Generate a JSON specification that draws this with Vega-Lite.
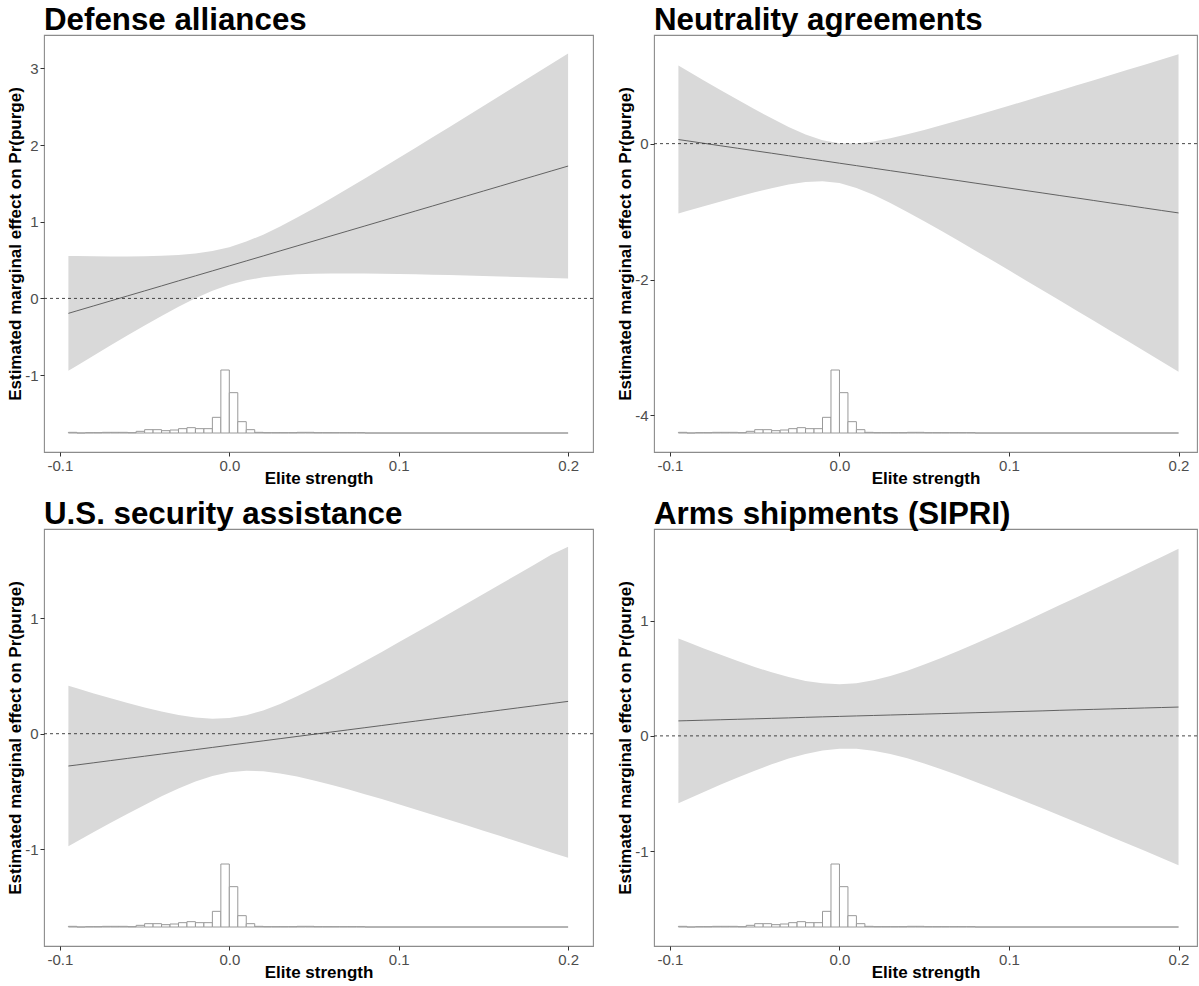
{
  "$schema": "https://vega.github.io/schema/vega-lite/v6.json",
  "padding": {"left": 6, "top": 4, "right": 0, "bottom": 0},
  "columns": 2,
  "spacing": {"row": 11, "column": 22},
  "datasets": {
    "p1": [
      {"x": -0.095, "effect": -0.195, "lower": -0.945, "upper": 0.555},
      {"x": -0.09, "effect": -0.162, "lower": -0.878, "upper": 0.553},
      {"x": -0.08, "effect": -0.097, "lower": -0.745, "upper": 0.550},
      {"x": -0.07, "effect": -0.032, "lower": -0.612, "upper": 0.548},
      {"x": -0.06, "effect": 0.033, "lower": -0.482, "upper": 0.548},
      {"x": -0.05, "effect": 0.098, "lower": -0.354, "upper": 0.550},
      {"x": -0.04, "effect": 0.163, "lower": -0.229, "upper": 0.556},
      {"x": -0.03, "effect": 0.229, "lower": -0.110, "upper": 0.567},
      {"x": -0.02, "effect": 0.294, "lower": 0.001, "upper": 0.587},
      {"x": -0.01, "effect": 0.359, "lower": 0.099, "upper": 0.619},
      {"x": 0.0, "effect": 0.424, "lower": 0.179, "upper": 0.669},
      {"x": 0.01, "effect": 0.489, "lower": 0.237, "upper": 0.741},
      {"x": 0.02, "effect": 0.554, "lower": 0.276, "upper": 0.832},
      {"x": 0.03, "effect": 0.620, "lower": 0.300, "upper": 0.939},
      {"x": 0.04, "effect": 0.685, "lower": 0.314, "upper": 1.055},
      {"x": 0.05, "effect": 0.750, "lower": 0.322, "upper": 1.178},
      {"x": 0.06, "effect": 0.815, "lower": 0.325, "upper": 1.304},
      {"x": 0.07, "effect": 0.880, "lower": 0.326, "upper": 1.434},
      {"x": 0.08, "effect": 0.945, "lower": 0.325, "upper": 1.566},
      {"x": 0.09, "effect": 1.010, "lower": 0.322, "upper": 1.699},
      {"x": 0.10, "effect": 1.076, "lower": 0.319, "upper": 1.832},
      {"x": 0.11, "effect": 1.141, "lower": 0.314, "upper": 1.967},
      {"x": 0.12, "effect": 1.206, "lower": 0.309, "upper": 2.102},
      {"x": 0.13, "effect": 1.271, "lower": 0.304, "upper": 2.238},
      {"x": 0.14, "effect": 1.336, "lower": 0.298, "upper": 2.374},
      {"x": 0.15, "effect": 1.401, "lower": 0.292, "upper": 2.510},
      {"x": 0.16, "effect": 1.466, "lower": 0.286, "upper": 2.647},
      {"x": 0.17, "effect": 1.532, "lower": 0.280, "upper": 2.783},
      {"x": 0.18, "effect": 1.597, "lower": 0.273, "upper": 2.920},
      {"x": 0.19, "effect": 1.662, "lower": 0.266, "upper": 3.057},
      {"x": 0.20, "effect": 1.727, "lower": 0.260, "upper": 3.195}
    ],
    "p2": [
      {"x": -0.095, "effect": 0.060, "lower": -1.030, "upper": 1.150},
      {"x": -0.09, "effect": 0.042, "lower": -0.993, "upper": 1.077},
      {"x": -0.08, "effect": 0.005, "lower": -0.921, "upper": 0.931},
      {"x": -0.07, "effect": -0.032, "lower": -0.850, "upper": 0.787},
      {"x": -0.06, "effect": -0.068, "lower": -0.781, "upper": 0.645},
      {"x": -0.05, "effect": -0.105, "lower": -0.715, "upper": 0.506},
      {"x": -0.04, "effect": -0.141, "lower": -0.655, "upper": 0.372},
      {"x": -0.03, "effect": -0.178, "lower": -0.602, "upper": 0.246},
      {"x": -0.02, "effect": -0.215, "lower": -0.565, "upper": 0.136},
      {"x": -0.01, "effect": -0.251, "lower": -0.554, "upper": 0.051},
      {"x": 0.0, "effect": -0.288, "lower": -0.581, "upper": 0.006},
      {"x": 0.01, "effect": -0.324, "lower": -0.652, "upper": 0.003},
      {"x": 0.02, "effect": -0.361, "lower": -0.753, "upper": 0.031},
      {"x": 0.03, "effect": -0.398, "lower": -0.874, "upper": 0.079},
      {"x": 0.04, "effect": -0.434, "lower": -1.005, "upper": 0.137},
      {"x": 0.05, "effect": -0.471, "lower": -1.143, "upper": 0.201},
      {"x": 0.06, "effect": -0.508, "lower": -1.284, "upper": 0.269},
      {"x": 0.07, "effect": -0.544, "lower": -1.427, "upper": 0.339},
      {"x": 0.08, "effect": -0.581, "lower": -1.572, "upper": 0.411},
      {"x": 0.09, "effect": -0.617, "lower": -1.718, "upper": 0.484},
      {"x": 0.10, "effect": -0.654, "lower": -1.865, "upper": 0.558},
      {"x": 0.11, "effect": -0.691, "lower": -2.013, "upper": 0.632},
      {"x": 0.12, "effect": -0.727, "lower": -2.161, "upper": 0.707},
      {"x": 0.13, "effect": -0.764, "lower": -2.310, "upper": 0.782},
      {"x": 0.14, "effect": -0.800, "lower": -2.459, "upper": 0.858},
      {"x": 0.15, "effect": -0.837, "lower": -2.608, "upper": 0.934},
      {"x": 0.16, "effect": -0.874, "lower": -2.757, "upper": 1.010},
      {"x": 0.17, "effect": -0.910, "lower": -2.906, "upper": 1.086},
      {"x": 0.18, "effect": -0.947, "lower": -3.056, "upper": 1.162},
      {"x": 0.19, "effect": -0.984, "lower": -3.206, "upper": 1.239},
      {"x": 0.20, "effect": -1.020, "lower": -3.356, "upper": 1.315}
    ],
    "p3": [
      {"x": -0.095, "effect": -0.280, "lower": -0.975, "upper": 0.415},
      {"x": -0.09, "effect": -0.271, "lower": -0.934, "upper": 0.393},
      {"x": -0.08, "effect": -0.252, "lower": -0.852, "upper": 0.349},
      {"x": -0.07, "effect": -0.233, "lower": -0.772, "upper": 0.307},
      {"x": -0.06, "effect": -0.214, "lower": -0.693, "upper": 0.266},
      {"x": -0.05, "effect": -0.195, "lower": -0.617, "upper": 0.227},
      {"x": -0.04, "effect": -0.176, "lower": -0.543, "upper": 0.192},
      {"x": -0.03, "effect": -0.157, "lower": -0.475, "upper": 0.162},
      {"x": -0.02, "effect": -0.138, "lower": -0.415, "upper": 0.140},
      {"x": -0.01, "effect": -0.119, "lower": -0.367, "upper": 0.129},
      {"x": 0.0, "effect": -0.100, "lower": -0.335, "upper": 0.135},
      {"x": 0.01, "effect": -0.081, "lower": -0.321, "upper": 0.160},
      {"x": 0.02, "effect": -0.062, "lower": -0.326, "upper": 0.202},
      {"x": 0.03, "effect": -0.043, "lower": -0.344, "upper": 0.258},
      {"x": 0.04, "effect": -0.024, "lower": -0.371, "upper": 0.324},
      {"x": 0.05, "effect": -0.005, "lower": -0.405, "upper": 0.395},
      {"x": 0.06, "effect": 0.014, "lower": -0.442, "upper": 0.470},
      {"x": 0.07, "effect": 0.033, "lower": -0.482, "upper": 0.548},
      {"x": 0.08, "effect": 0.052, "lower": -0.524, "upper": 0.628},
      {"x": 0.09, "effect": 0.071, "lower": -0.567, "upper": 0.709},
      {"x": 0.10, "effect": 0.090, "lower": -0.611, "upper": 0.792},
      {"x": 0.11, "effect": 0.109, "lower": -0.656, "upper": 0.874},
      {"x": 0.12, "effect": 0.128, "lower": -0.702, "upper": 0.958},
      {"x": 0.13, "effect": 0.147, "lower": -0.748, "upper": 1.042},
      {"x": 0.14, "effect": 0.166, "lower": -0.794, "upper": 1.126},
      {"x": 0.15, "effect": 0.185, "lower": -0.841, "upper": 1.211},
      {"x": 0.16, "effect": 0.204, "lower": -0.887, "upper": 1.295},
      {"x": 0.17, "effect": 0.223, "lower": -0.934, "upper": 1.380},
      {"x": 0.18, "effect": 0.242, "lower": -0.981, "upper": 1.465},
      {"x": 0.19, "effect": 0.261, "lower": -1.029, "upper": 1.551},
      {"x": 0.20, "effect": 0.280, "lower": -1.076, "upper": 1.620}
    ],
    "p4": [
      {"x": -0.095, "effect": 0.130, "lower": -0.585, "upper": 0.845},
      {"x": -0.09, "effect": 0.132, "lower": -0.552, "upper": 0.816},
      {"x": -0.08, "effect": 0.136, "lower": -0.486, "upper": 0.758},
      {"x": -0.07, "effect": 0.140, "lower": -0.422, "upper": 0.703},
      {"x": -0.06, "effect": 0.144, "lower": -0.361, "upper": 0.649},
      {"x": -0.05, "effect": 0.148, "lower": -0.302, "upper": 0.598},
      {"x": -0.04, "effect": 0.152, "lower": -0.247, "upper": 0.551},
      {"x": -0.03, "effect": 0.156, "lower": -0.197, "upper": 0.510},
      {"x": -0.02, "effect": 0.161, "lower": -0.156, "upper": 0.477},
      {"x": -0.01, "effect": 0.165, "lower": -0.126, "upper": 0.456},
      {"x": 0.0, "effect": 0.169, "lower": -0.111, "upper": 0.448},
      {"x": 0.01, "effect": 0.173, "lower": -0.112, "upper": 0.457},
      {"x": 0.02, "effect": 0.177, "lower": -0.128, "upper": 0.482},
      {"x": 0.03, "effect": 0.181, "lower": -0.157, "upper": 0.519},
      {"x": 0.04, "effect": 0.185, "lower": -0.195, "upper": 0.565},
      {"x": 0.05, "effect": 0.189, "lower": -0.240, "upper": 0.618},
      {"x": 0.06, "effect": 0.193, "lower": -0.289, "upper": 0.675},
      {"x": 0.07, "effect": 0.197, "lower": -0.342, "upper": 0.736},
      {"x": 0.08, "effect": 0.201, "lower": -0.397, "upper": 0.799},
      {"x": 0.09, "effect": 0.205, "lower": -0.454, "upper": 0.864},
      {"x": 0.10, "effect": 0.209, "lower": -0.512, "upper": 0.930},
      {"x": 0.11, "effect": 0.213, "lower": -0.571, "upper": 0.997},
      {"x": 0.12, "effect": 0.217, "lower": -0.630, "upper": 1.065},
      {"x": 0.13, "effect": 0.222, "lower": -0.691, "upper": 1.134},
      {"x": 0.14, "effect": 0.226, "lower": -0.751, "upper": 1.202},
      {"x": 0.15, "effect": 0.230, "lower": -0.812, "upper": 1.272},
      {"x": 0.16, "effect": 0.234, "lower": -0.874, "upper": 1.341},
      {"x": 0.17, "effect": 0.238, "lower": -0.935, "upper": 1.411},
      {"x": 0.18, "effect": 0.242, "lower": -0.997, "upper": 1.481},
      {"x": 0.19, "effect": 0.246, "lower": -1.059, "upper": 1.551},
      {"x": 0.20, "effect": 0.250, "lower": -1.122, "upper": 1.622}
    ],
    "hist": [
      {"x0": -0.095, "x1": -0.09, "n": 2},
      {"x0": -0.09, "x1": -0.085, "n": 0},
      {"x0": -0.085, "x1": -0.08, "n": 1},
      {"x0": -0.08, "x1": -0.075, "n": 1},
      {"x0": -0.075, "x1": -0.07, "n": 2},
      {"x0": -0.07, "x1": -0.065, "n": 2},
      {"x0": -0.065, "x1": -0.06, "n": 2},
      {"x0": -0.06, "x1": -0.055, "n": 1},
      {"x0": -0.055, "x1": -0.05, "n": 5},
      {"x0": -0.05, "x1": -0.045, "n": 10},
      {"x0": -0.045, "x1": -0.04, "n": 10},
      {"x0": -0.04, "x1": -0.035, "n": 7},
      {"x0": -0.035, "x1": -0.03, "n": 9},
      {"x0": -0.03, "x1": -0.025, "n": 13},
      {"x0": -0.025, "x1": -0.02, "n": 16},
      {"x0": -0.02, "x1": -0.015, "n": 13},
      {"x0": -0.015, "x1": -0.01, "n": 13},
      {"x0": -0.01, "x1": -0.005, "n": 47},
      {"x0": -0.005, "x1": 0.0, "n": 189},
      {"x0": 0.0, "x1": 0.005, "n": 121},
      {"x0": 0.005, "x1": 0.01, "n": 34},
      {"x0": 0.01, "x1": 0.015, "n": 10},
      {"x0": 0.015, "x1": 0.02, "n": 2},
      {"x0": 0.02, "x1": 0.025, "n": 1},
      {"x0": 0.025, "x1": 0.03, "n": 1},
      {"x0": 0.03, "x1": 0.035, "n": 1},
      {"x0": 0.035, "x1": 0.04, "n": 1},
      {"x0": 0.04, "x1": 0.045, "n": 2},
      {"x0": 0.045, "x1": 0.05, "n": 2},
      {"x0": 0.05, "x1": 0.055, "n": 1},
      {"x0": 0.055, "x1": 0.06, "n": 1},
      {"x0": 0.06, "x1": 0.065, "n": 1},
      {"x0": 0.065, "x1": 0.07, "n": 1},
      {"x0": 0.07, "x1": 0.075, "n": 1},
      {"x0": 0.075, "x1": 0.08, "n": 1},
      {"x0": 0.08, "x1": 0.2, "n": 0}
    ]
  },
  "concat": [
    {
      "title": "Defense alliances",
      "width": 549, "height": 417,
      "resolve": {"scale": {"y": "independent"}},
      "layer": [
        {"layer": [
          {"data": {"name": "p1"}, "mark": {"type": "area", "color": "#D9D9D9", "opacity": 1},
           "encoding": {
             "x": {"field": "x", "type": "quantitative", "scale": {"domain": [-0.1094, 0.2147], "nice": false, "zero": false},
                   "axis": {"values": [-0.1, 0, 0.1, 0.2], "format": ".1f", "labelExpr": "replace(datum.label, '−', '-')", "title": "Elite strength"}},
             "y": {"field": "lower", "type": "quantitative", "scale": {"domain": [-2.004, 3.437], "nice": false, "zero": false},
                   "axis": {"values": [-1, 0, 1, 2, 3], "format": "d", "labelExpr": "replace(datum.label, '−', '-')", "title": "Estimated marginal effect on Pr(purge)"}},
             "y2": {"field": "upper"}}},
          {"data": {"name": "p1"}, "mark": {"type": "line", "color": "#555555", "strokeWidth": 0.9},
           "encoding": {"x": {"field": "x", "type": "quantitative"}, "y": {"field": "effect", "type": "quantitative"}}},
          {"data": {"values": [{"ref": 0}]}, "mark": {"type": "rule", "color": "#333333", "strokeDash": [3, 3], "strokeWidth": 0.9},
           "encoding": {"y": {"field": "ref", "type": "quantitative"}}}
        ]},
        {"data": {"name": "hist"}, "mark": {"type": "rect", "fill": "#FFFFFF", "stroke": "#9A9A9A", "strokeWidth": 1},
         "encoding": {"x": {"field": "x0", "type": "quantitative"}, "x2": {"field": "x1"},
                      "y": {"field": "n", "type": "quantitative", "scale": {"domain": [-57, 1194], "nice": false, "zero": false}, "axis": null},
                      "y2": {"datum": 0}}}
      ]
    },
    {
      "title": "Neutrality agreements",
      "width": 543, "height": 417,
      "resolve": {"scale": {"y": "independent"}},
      "layer": [
        {"layer": [
          {"data": {"name": "p2"}, "mark": {"type": "area", "color": "#D9D9D9", "opacity": 1},
           "encoding": {
             "x": {"field": "x", "type": "quantitative", "scale": {"domain": [-0.1094, 0.2109], "nice": false, "zero": false},
                   "axis": {"values": [-0.1, 0, 0.1, 0.2], "format": ".1f", "labelExpr": "replace(datum.label, '−', '-')", "title": "Elite strength"}},
             "y": {"field": "lower", "type": "quantitative", "scale": {"domain": [-4.539, 1.599], "nice": false, "zero": false},
                   "axis": {"values": [-4, -2, 0], "format": "d", "labelExpr": "replace(datum.label, '−', '-')", "title": "Estimated marginal effect on Pr(purge)"}},
             "y2": {"field": "upper"}}},
          {"data": {"name": "p2"}, "mark": {"type": "line", "color": "#555555", "strokeWidth": 0.9},
           "encoding": {"x": {"field": "x", "type": "quantitative"}, "y": {"field": "effect", "type": "quantitative"}}},
          {"data": {"values": [{"ref": 0}]}, "mark": {"type": "rule", "color": "#333333", "strokeDash": [3, 3], "strokeWidth": 0.9},
           "encoding": {"y": {"field": "ref", "type": "quantitative"}}}
        ]},
        {"data": {"name": "hist"}, "mark": {"type": "rect", "fill": "#FFFFFF", "stroke": "#9A9A9A", "strokeWidth": 1},
         "encoding": {"x": {"field": "x0", "type": "quantitative"}, "x2": {"field": "x1"},
                      "y": {"field": "n", "type": "quantitative", "scale": {"domain": [-57, 1194], "nice": false, "zero": false}, "axis": null},
                      "y2": {"datum": 0}}}
      ]
    },
    {
      "title": "U.S. security assistance",
      "width": 549, "height": 417,
      "resolve": {"scale": {"y": "independent"}},
      "layer": [
        {"layer": [
          {"data": {"name": "p3"}, "mark": {"type": "area", "color": "#D9D9D9", "opacity": 1},
           "encoding": {
             "x": {"field": "x", "type": "quantitative", "scale": {"domain": [-0.1094, 0.2147], "nice": false, "zero": false},
                   "axis": {"values": [-0.1, 0, 0.1, 0.2], "format": ".1f", "labelExpr": "replace(datum.label, '−', '-')", "title": "Elite strength"}},
             "y": {"field": "lower", "type": "quantitative", "scale": {"domain": [-1.840, 1.774], "nice": false, "zero": false},
                   "axis": {"values": [-1, 0, 1], "format": "d", "labelExpr": "replace(datum.label, '−', '-')", "title": "Estimated marginal effect on Pr(purge)"}},
             "y2": {"field": "upper"}}},
          {"data": {"name": "p3"}, "mark": {"type": "line", "color": "#555555", "strokeWidth": 0.9},
           "encoding": {"x": {"field": "x", "type": "quantitative"}, "y": {"field": "effect", "type": "quantitative"}}},
          {"data": {"values": [{"ref": 0}]}, "mark": {"type": "rule", "color": "#333333", "strokeDash": [3, 3], "strokeWidth": 0.9},
           "encoding": {"y": {"field": "ref", "type": "quantitative"}}}
        ]},
        {"data": {"name": "hist"}, "mark": {"type": "rect", "fill": "#FFFFFF", "stroke": "#9A9A9A", "strokeWidth": 1},
         "encoding": {"x": {"field": "x0", "type": "quantitative"}, "x2": {"field": "x1"},
                      "y": {"field": "n", "type": "quantitative", "scale": {"domain": [-57, 1194], "nice": false, "zero": false}, "axis": null},
                      "y2": {"datum": 0}}}
      ]
    },
    {
      "title": "Arms shipments (SIPRI)",
      "width": 543, "height": 417,
      "resolve": {"scale": {"y": "independent"}},
      "layer": [
        {"layer": [
          {"data": {"name": "p4"}, "mark": {"type": "area", "color": "#D9D9D9", "opacity": 1},
           "encoding": {
             "x": {"field": "x", "type": "quantitative", "scale": {"domain": [-0.1094, 0.2109], "nice": false, "zero": false},
                   "axis": {"values": [-0.1, 0, 0.1, 0.2], "format": ".1f", "labelExpr": "replace(datum.label, '−', '-')", "title": "Elite strength"}},
             "y": {"field": "lower", "type": "quantitative", "scale": {"domain": [-1.822, 1.794], "nice": false, "zero": false},
                   "axis": {"values": [-1, 0, 1], "format": "d", "labelExpr": "replace(datum.label, '−', '-')", "title": "Estimated marginal effect on Pr(purge)"}},
             "y2": {"field": "upper"}}},
          {"data": {"name": "p4"}, "mark": {"type": "line", "color": "#555555", "strokeWidth": 0.9},
           "encoding": {"x": {"field": "x", "type": "quantitative"}, "y": {"field": "effect", "type": "quantitative"}}},
          {"data": {"values": [{"ref": 0}]}, "mark": {"type": "rule", "color": "#333333", "strokeDash": [3, 3], "strokeWidth": 0.9},
           "encoding": {"y": {"field": "ref", "type": "quantitative"}}}
        ]},
        {"data": {"name": "hist"}, "mark": {"type": "rect", "fill": "#FFFFFF", "stroke": "#9A9A9A", "strokeWidth": 1},
         "encoding": {"x": {"field": "x0", "type": "quantitative"}, "x2": {"field": "x1"},
                      "y": {"field": "n", "type": "quantitative", "scale": {"domain": [-57, 1194], "nice": false, "zero": false}, "axis": null},
                      "y2": {"datum": 0}}}
      ]
    }
  ],
  "config": {
    "font": "Liberation Sans",
    "view": {"stroke": "#8C8C8C", "strokeWidth": 1.1},
    "axis": {"grid": false, "domain": false, "tickColor": "#333333", "tickSize": 4, "tickWidth": 1,
             "labelColor": "#4D4D4D", "labelFont": "Liberation Sans", "labelFontSize": 15, "labelPadding": 2,
             "titleFont": "Liberation Sans", "titleFontSize": 17, "titleFontWeight": "bold", "titleColor": "#000000", "titlePadding": 0},
    "axisX": {"titlePadding": -3},
    "title": {"font": "Liberation Sans", "fontSize": 31.3, "fontWeight": "bold", "color": "#000000", "anchor": "start", "frame": "group", "offset": -1}
  }
}
